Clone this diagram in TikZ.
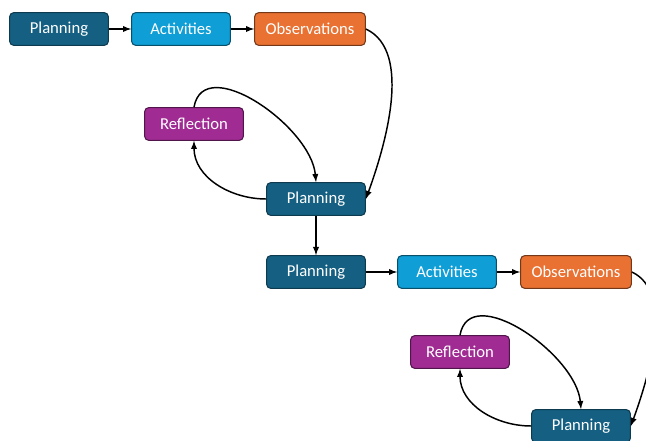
\documentclass[tikz,border=0pt]{standalone}
\usepackage{fontspec}
\setmainfont{Carlito}
\usetikzlibrary{positioning}
\definecolor{planblue}{HTML}{156082}
\definecolor{actblue}{HTML}{0F9ED5}
\definecolor{obsorange}{HTML}{E97132}
\definecolor{reflpurple}{HTML}{A02B93}
\begin{document}
\begin{tikzpicture}[x=0.75pt,y=-0.75pt,->,>=latex,line width=1.1pt]
        \tikzstyle{stage}=[rectangle,rounded corners=3pt,minimum width=74pt,minimum height=24.5pt,inner sep=2pt,text=white,font=\fontsize{12.5}{14}\selectfont,line width=0.8pt]
        \tikzstyle{plan stage}=[stage, fill=planblue, draw=planblue!60!black];
        \tikzstyle{act stage}=[stage, fill=actblue, draw=actblue!50!black];
        \tikzstyle{obs stage}=[stage, fill=obsorange, draw=obsorange!50!black, minimum width=83pt];
        \tikzstyle{refl stage}=[stage, fill=reflpurple, draw=reflpurple!50!black];

        \useasboundingbox (0,0) rectangle (646,441);

        % First cycle
        \node[plan stage] (P-1) at (59,29) {Planning};
        \node[act stage] (A-1) at (181,29) {Activities};
        \node[obs stage] (O-1) at (310,29) {Observations};
        \node[refl stage] (R-1) at (194,124) {Reflection};
        \node[plan stage] (P-2) at (316,199) {Planning};

        % Second cycle
        \node[plan stage] (P-3) at (316,272) {Planning};
        \node[act stage] (A-2) at (447,272) {Activities};
        \node[obs stage] (O-2) at (576,272) {Observations};
        \node[refl stage] (R-2) at (460,352) {Reflection};
        \node[plan stage] (P-4) at (581,426) {Planning};

        % Connect the stages
        \draw (P-1) -- (A-1);
        \draw (A-1) -- (O-1);
        \draw (O-1.east) to[out=-25,in=70,looseness=0.8] (P-2.east);
        \draw (P-2.west) to[out=180,in=-90] (R-1.south);
        \draw (R-1.north) to[out=80,in=95] (P-2.north);
        \draw (P-2) -- (P-3);

        \draw (P-3) -- (A-2);
        \draw (A-2) -- (O-2);
        \draw (O-2.east) to[out=-25,in=70,looseness=0.8] (P-4.east);
        \draw (P-4.west) to[out=180,in=-90] (R-2.south);
        \draw (R-2.north) to[out=80,in=95] (P-4.north);

\end{tikzpicture}
\end{document}
